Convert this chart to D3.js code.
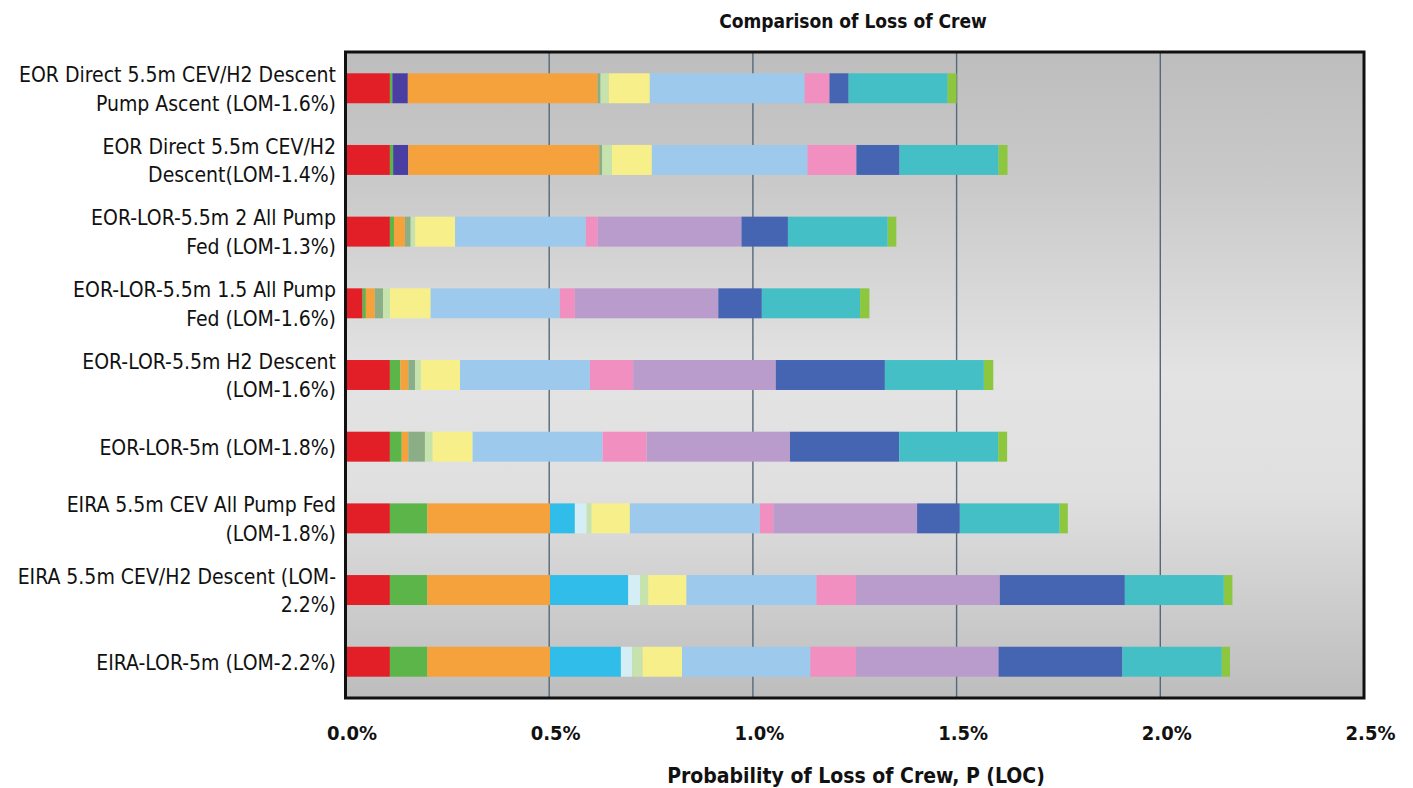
<!DOCTYPE html>
<html>
<head>
<meta charset="utf-8">
<script src="https://cdn.jsdelivr.net/npm/d3@7"></script>
<style>
  html, body { margin: 0; padding: 0; background: #ffffff; }
  svg { display: block; }
  .cond { font-family: "Liberation Sans Narrow", "DejaVu Sans Condensed", "Roboto Condensed", "Arial Narrow", sans-serif; font-stretch: condensed; }
</style>
</head>
<body>
<svg id="chart" width="1413" height="788"></svg>
<script>
// ---------------- DATA ----------------
const categories = [
  "EOR Direct 5.5m CEV/H2 Descent Pump Ascent (LOM-1.6%)",
  "EOR Direct 5.5m CEV/H2 Descent(LOM-1.4%)",
  "EOR-LOR-5.5m 2 All Pump Fed (LOM-1.3%)",
  "EOR-LOR-5.5m 1.5 All Pump Fed (LOM-1.6%)",
  "EOR-LOR-5.5m H2 Descent (LOM-1.6%)",
  "EOR-LOR-5m (LOM-1.8%)",
  "EIRA 5.5m CEV All Pump Fed (LOM-1.8%)",
  "EIRA 5.5m CEV/H2 Descent (LOM-2.2%)",
  "EIRA-LOR-5m (LOM-2.2%)"
];
const categoryLines = [
  ["EOR Direct 5.5m CEV/H2 Descent", "Pump Ascent (LOM-1.6%)"],
  ["EOR Direct 5.5m CEV/H2", "Descent(LOM-1.4%)"],
  ["EOR-LOR-5.5m 2 All Pump", "Fed (LOM-1.3%)"],
  ["EOR-LOR-5.5m 1.5 All Pump", "Fed (LOM-1.6%)"],
  ["EOR-LOR-5.5m H2 Descent", "(LOM-1.6%)"],
  ["EOR-LOR-5m (LOM-1.8%)"],
  ["EIRA 5.5m CEV All Pump Fed", "(LOM-1.8%)"],
  ["EIRA 5.5m CEV/H2 Descent (LOM-", "2.2%)"],
  ["EIRA-LOR-5m (LOM-2.2%)"]
];

// Loss-of-crew contributions (%) per element, one array per stacked series
const red        = [0.109, 0.109, 0.109, 0.042, 0.109, 0.109, 0.109, 0.109, 0.109];
const green      = [0.006, 0.008, 0.010, 0.008, 0.026, 0.029, 0.092, 0.092, 0.092];
const indigo     = [0.038, 0.037, 0.000, 0.000, 0.000, 0.000, 0.000, 0.000, 0.000];
const orange     = [0.466, 0.469, 0.027, 0.022, 0.019, 0.016, 0.301, 0.301, 0.301];
const cyan       = [0.000, 0.000, 0.000, 0.000, 0.000, 0.000, 0.061, 0.192, 0.174];
const grayGreen  = [0.007, 0.007, 0.014, 0.020, 0.017, 0.041, 0.000, 0.000, 0.000];
const lightCyan  = [0.000, 0.000, 0.000, 0.000, 0.000, 0.000, 0.029, 0.029, 0.028];
const lightGreen = [0.020, 0.024, 0.011, 0.017, 0.014, 0.019, 0.012, 0.020, 0.025];
const yellow     = [0.101, 0.098, 0.098, 0.100, 0.096, 0.098, 0.094, 0.094, 0.097];
const lightBlue  = [0.380, 0.382, 0.321, 0.317, 0.319, 0.319, 0.319, 0.319, 0.315];
const pink       = [0.061, 0.120, 0.029, 0.037, 0.106, 0.108, 0.033, 0.097, 0.112];
const lavender   = [0.000, 0.000, 0.353, 0.352, 0.350, 0.352, 0.353, 0.353, 0.350];
const blue       = [0.047, 0.106, 0.114, 0.107, 0.268, 0.268, 0.105, 0.307, 0.304];
const teal       = [0.243, 0.243, 0.245, 0.241, 0.243, 0.243, 0.245, 0.243, 0.244];
const lime       = [0.022, 0.022, 0.021, 0.023, 0.023, 0.022, 0.020, 0.021, 0.020];

const seriesKeys = ["red","green","indigo","orange","cyan","grayGreen","lightCyan","lightGreen",
                    "yellow","lightBlue","pink","lavender","blue","teal","lime"];
const seriesValues = [red, green, indigo, orange, cyan, grayGreen, lightCyan, lightGreen,
                      yellow, lightBlue, pink, lavender, blue, teal, lime];
const seriesColors = ["#e21f27","#5bb548","#4b3ea3","#f5a23d","#30bde9","#8cae86","#d5eef5","#c6e3ae",
                      "#f7f08a","#9dc9ec","#f08fc0","#b99bcc","#4565b3","#45bfc6","#8dc63f"];

const xTicks = [0, 0.5, 1.0, 1.5, 2.0, 2.5];
const xTickLabels = ["0.0%", "0.5%", "1.0%", "1.5%", "2.0%", "2.5%"];
const titleText = "Comparison of Loss of Crew";
const xAxisTitle = "Probability of Loss of Crew, P (LOC)";

// ---------------- BUILD ----------------
const rows = categories.map((c, i) => {
  const r = { category: c };
  seriesKeys.forEach((k, j) => { r[k] = seriesValues[j][i]; });
  return r;
});
const stacked = d3.stack().keys(seriesKeys)(rows);
const colorOf = d3.scaleOrdinal().domain(seriesKeys).range(seriesColors);

const svg = d3.select("#chart");
const plot = { left: 345.5, right: 1364, top: 52, bottom: 698 };

const x = d3.scaleLinear().domain([0, 2.5]).range([plot.left, plot.right]);
const y = d3.scaleBand().domain(categories).range([plot.top, plot.bottom])
  .paddingInner(0.582).paddingOuter(0.297);

// background gradient
const defs = svg.append("defs");
const grad = defs.append("linearGradient").attr("id", "bg").attr("x1", 0).attr("y1", 0).attr("x2", 0).attr("y2", 1);
[["0%", "#bdbdbd"], ["20%", "#c9c9c9"], ["50%", "#e3e3e3"], ["68%", "#e0e0e0"], ["100%", "#bdbdbd"]]
  .forEach(([o, c]) => grad.append("stop").attr("offset", o).attr("stop-color", c));

svg.append("rect")
  .attr("x", plot.left).attr("y", plot.top)
  .attr("width", plot.right - plot.left).attr("height", plot.bottom - plot.top)
  .attr("fill", "url(#bg)");

// gridlines
svg.append("g").selectAll("line")
  .data(xTicks.filter(t => t > 0 && t < 2.5))
  .join("line")
  .attr("x1", d => x(d)).attr("x2", d => x(d))
  .attr("y1", plot.top).attr("y2", plot.bottom)
  .attr("stroke", "#55697a").attr("stroke-width", 1.4);

// bars
svg.append("g").selectAll("g")
  .data(stacked)
  .join("g")
  .attr("fill", d => colorOf(d.key))
  .selectAll("rect")
  .data(d => d.filter(s => s[1] - s[0] > 0))
  .join("rect")
  .attr("x", d => x(d[0]))
  .attr("width", d => x(d[1]) - x(d[0]))
  .attr("y", d => y(d.data.category))
  .attr("height", y.bandwidth());

// frame
svg.append("rect")
  .attr("x", plot.left).attr("y", plot.top)
  .attr("width", plot.right - plot.left).attr("height", plot.bottom - plot.top)
  .attr("fill", "none").attr("stroke", "#111").attr("stroke-width", 3);

// x axis tick labels
const xAxis = d3.axisBottom(x).tickValues(xTicks)
  .tickFormat((d, i) => xTickLabels[i]).tickSize(0).tickPadding(0);
const gx = svg.append("g").attr("transform", `translate(6, ${plot.bottom})`).call(xAxis);
gx.select(".domain").remove();
gx.selectAll("text")
  .attr("class", "cond")
  .attr("y", 42)
  .attr("dy", 0)
  .attr("font-size", 20).attr("font-weight", "bold").attr("fill", "#111");

// y labels (multi-line)
const gy = svg.append("g");
categories.forEach((c, i) => {
  const lines = categoryLines[i];
  const cy = y(c) + y.bandwidth() / 2;
  const lh = 28.5;
  const t = gy.append("text")
    .attr("class", "cond")
    .attr("text-anchor", "end")
    .attr("font-size", 21)
    .attr("fill", "#111");
  lines.forEach((ln, k) => {
    t.append("tspan")
      .attr("x", 336)
      .attr("y", cy + 8 + (k - (lines.length - 1) / 2) * lh)
      .text(ln);
  });
});

// titles
svg.append("text").attr("class", "cond")
  .attr("x", 853).attr("y", 28)
  .attr("text-anchor", "middle").attr("font-size", 19).attr("font-weight", "bold").attr("fill", "#111")
  .text(titleText);
svg.append("text").attr("class", "cond")
  .attr("x", 856).attr("y", 783)
  .attr("text-anchor", "middle").attr("font-size", 21).attr("font-weight", "bold").attr("fill", "#111")
  .text(xAxisTitle);
</script>
</body>
</html>
